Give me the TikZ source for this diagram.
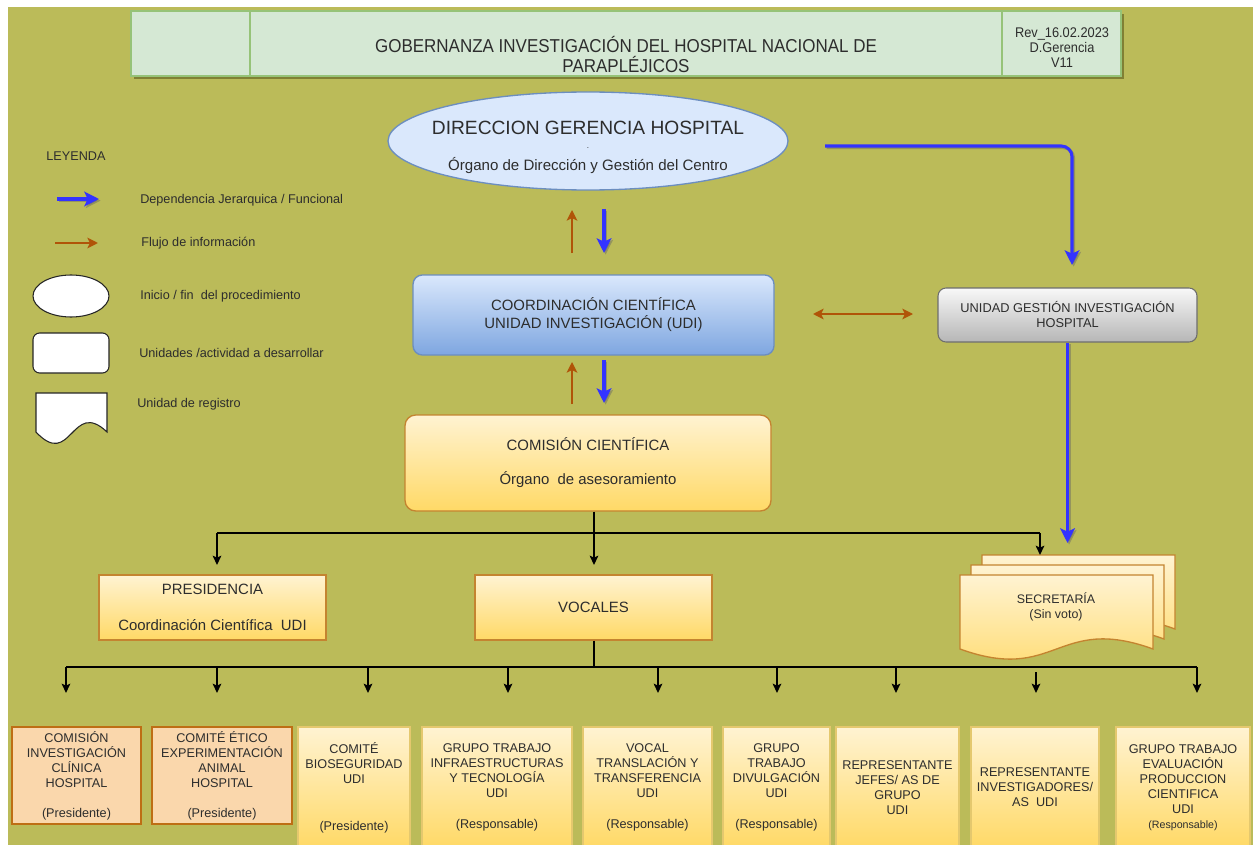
\documentclass[tikz,border=0pt]{standalone}
\usepackage{graphicx}
\usepackage{fontspec}
\setmainfont{Liberation Sans}
\usetikzlibrary{arrows.meta,shapes.geometric}
\definecolor{olivebg}{RGB}{187,187,89}
\definecolor{oliveshadow}{RGB}{128,128,52}
\definecolor{hdrfill}{RGB}{213,232,212}
\definecolor{hdrline}{RGB}{150,195,120}
\definecolor{txt}{RGB}{45,45,45}
\definecolor{bluefill}{RGB}{218,232,252}
\definecolor{blueline}{RGB}{108,142,191}
\definecolor{bluegrad}{RGB}{126,166,224}
\definecolor{yeltop}{RGB}{255,243,210}
\definecolor{yelbot}{RGB}{255,217,102}
\definecolor{midline}{RGB}{196,132,48}
\definecolor{lowline}{RGB}{228,200,110}
\definecolor{orline}{RGB}{190,110,20}
\definecolor{orfill}{RGB}{250,215,172}
\definecolor{greytop}{RGB}{248,248,248}
\definecolor{greybot}{RGB}{182,182,182}
\definecolor{greyline}{RGB}{110,110,110}
\definecolor{arrblue}{RGB}{51,51,255}
\definecolor{arrbrown}{RGB}{176,84,8}
\newcommand{\fs}[2]{\fontsize{#1}{#2}\selectfont}
\begin{document}
\begin{tikzpicture}[x=0.75pt,y=-0.75pt,
  every node/.style={text=txt},
  rect/.style n args={4}{minimum width={(#3-#1)*0.75pt}, minimum height={(#4-#2)*0.75pt}, at={({(#1+#3)/2},{(#2+#4)/2})}, inner sep=0pt, align=center},
  hdr/.style={draw=hdrline, fill=hdrfill, line width=0.8pt},
  bluebox/.style={draw=blueline, line width=1pt, rounded corners=7pt, top color=bluefill, bottom color=bluegrad},
  greybox/.style={draw=greyline, line width=0.8pt, rounded corners=6pt, top color=greytop, bottom color=greybot},
  ybox/.style={draw=midline, line width=1pt, top color=yeltop, bottom color=yelbot},
  ylow/.style={draw=lowline, line width=0.8pt, top color=yeltop, bottom color=yelbot},
  obox/.style={draw=orline, line width=0.8pt, fill=orfill},
  bluearr/.style={draw=arrblue, line width=2.3pt, -{Stealth[length=11pt,width=11pt,inset=2.5pt]}},
  bshadow/.style={draw=black!60, opacity=0.45, line width=2.3pt, -{Stealth[length=11pt,width=11pt,inset=2.5pt]}, transform canvas={xshift=1.2pt,yshift=-1.2pt}},
  brownarr/.style={draw=arrbrown, line width=1.4pt, -{Stealth[length=8pt,width=8pt,inset=2pt]}},
  tree/.style={draw=black, line width=1.2pt},
  treearr/.style={draw=black, line width=1.1pt, -{Stealth[length=7pt,width=6.5pt,inset=1.5pt]}},
  legshape/.style={draw=black!85, line width=0.8pt, fill=white},
  doc/.style={draw=midline, line width=1pt, top color=yeltop, bottom color=yelbot},
  lowtxt/.style={font=\fs{9.5}{11.25}},
  midtxt/.style={font=\fs{11.2}{13.5}},
  legtxt/.style={font=\fs{9.5}{11}, anchor=west, inner sep=0pt},
]
\useasboundingbox (0,0) rectangle (1253,845);
\fill[white] (0,0) rectangle (1253,845);
\fill[olivebg] (8,7) rectangle (1253,845);

% ---------- header ----------
\fill[oliveshadow] (134,14) rectangle (1124,79);
\node[hdr, rect={131}{11}{250}{76}] (hA) {};
\node[hdr, rect={250}{11}{1002}{76}] (hB) {};
\node[hdr, rect={1002}{11}{1121}{76}] (hC) {};
\node[font=\fs{14}{15}, align=center, inner sep=0pt] (title) at (626,54) {\scalebox{0.91}[1]{GOBERNANZA INVESTIGACIÓN DEL HOSPITAL NACIONAL DE}\\\scalebox{0.91}[1]{PARAPLÉJICOS}};
\node[font=\fs{10.5}{11.25}, align=center, inner sep=0pt] (rev) at (1062,48) {\scalebox{0.915}[1]{Rev\_16.02.2023}\\\scalebox{0.915}[1]{D.Gerencia}\\\scalebox{0.915}[1]{V11}};

% ---------- legend ----------
\node[font=\fs{9.5}{11}] (leyenda) at (76,156) {LEYENDA};
\coordinate (lgB1) at (57,199); \coordinate (lgB2) at (99,199);
\draw[bshadow] (lgB1) -- (lgB2);
\draw[bluearr] (lgB1) -- (lgB2);
\node[legtxt] (lgT1) at (140,200) {Dependencia Jerarquica / Funcional};
\coordinate (lgR1) at (55,243); \coordinate (lgR2) at (98,243);
\draw[brownarr] (lgR1) -- (lgR2);
\node[legtxt] (lgT2) at (141,243) {Flujo de información};
\node[legshape, ellipse, minimum width=57pt, minimum height=31.5pt, inner sep=0pt] (lgE) at (71,296) {};
\node[legtxt] (lgT3) at (140,296) {Inicio / fin\ \ del procedimiento};
\node[legshape, rounded corners=5pt, rect={33}{333}{109}{373}] (lgR) {};
\node[legtxt] (lgT4) at (139,353) {Unidades /actividad a desarrollar};
\draw[legshape] (36,393) -- (107,393) -- (107,432) .. controls (71.5,398) and (71.5,470) .. (36,432) -- cycle;
\node[legtxt] (lgT5) at (137,404) {Unidad de registro};

% ---------- direccion ----------
\node[ellipse, draw=blueline, fill=bluefill, line width=1pt, minimum width=300pt, minimum height=73.5pt, inner sep=0pt] (dir) at (588,141) {};
\node[font=\fs{14.4}{16}] (dirT) at (588,128) {DIRECCION GERENCIA HOSPITAL};
\node[font=\fs{6}{6}, inner sep=0pt] (dirDot) at (588,148) {.};
\node[font=\fs{11.3}{13}] (dirS) at (588,166) {Órgano de Dirección y Gestión del Centro};

% ---------- coordinacion ----------
\node[bluebox, rect={413}{275}{774}{355}, midtxt] (coord) {COORDINACIÓN CIENTÍFICA\\UNIDAD INVESTIGACIÓN (UDI)};

% ---------- unidad gestion ----------
\node[greybox, rect={938}{288}{1197}{342}, font=\fs{9.6}{11.25}] (ugi) {UNIDAD GESTIÓN INVESTIGACIÓN\\HOSPITAL};

% ---------- comision ----------
\node[ybox, rounded corners=8pt, rect={405}{415}{771}{511}, font=\fs{11.2}{12.75}] (com) {COMISIÓN CIENTÍFICA\\[12.75pt]Órgano\ \ de asesoramiento};

% ---------- presidencia / vocales ----------
\node[ybox, rect={99}{575}{326}{640}, midtxt] (pres) {PRESIDENCIA\\[13.5pt]Coordinación Científica\ \ UDI};
\node[ybox, rect={475}{575}{712}{640}, midtxt] (voc) {VOCALES};

% ---------- secretaria (stacked documents) ----------
\draw[doc] (982,555) -- (1175,555) -- (1175,629) .. controls (1078.5,594) and (1078.5,664) .. (982,629) -- cycle;
\draw[doc] (971,565) -- (1164,565) -- (1164,639) .. controls (1067.5,604) and (1067.5,674) .. (971,639) -- cycle;
\draw[doc] (960,575) -- (1153,575) -- (1153,649) .. controls (1056.5,614) and (1056.5,684) .. (960,649) -- cycle;
\node[font=\fs{9.3}{11.25}, align=center] (sec) at (1056,607) {SECRETARÍA\\(Sin voto)};
\coordinate (secTop) at (1040,555);

% ---------- bottom boxes ----------
\node[obox, rect={12}{727}{141}{824}, lowtxt] (b1) {COMISIÓN\\INVESTIGACIÓN\\CLÍNICA\\HOSPITAL\\[11.25pt](Presidente)};
\node[obox, rect={152}{727}{292}{824}, lowtxt] (b2) {COMITÉ ÉTICO\\EXPERIMENTACIÓN\\ANIMAL\\HOSPITAL\\[11.25pt](Presidente)};
\node[ylow, rect={298}{727}{410}{848}, lowtxt] (b3) {COMITÉ\\BIOSEGURIDAD\\UDI\\[24pt](Presidente)};
\node[ylow, rect={422}{727}{572}{848}, lowtxt] (b4) {GRUPO TRABAJO\\INFRAESTRUCTURAS\\Y TECNOLOGÍA\\UDI\\[12pt](Responsable)};
\node[ylow, rect={583}{727}{712}{848}, lowtxt] (b5) {VOCAL\\TRANSLACIÓN Y\\TRANSFERENCIA\\UDI\\[12pt](Responsable)};
\node[ylow, rect={723}{727}{830}{848}, lowtxt] (b6) {GRUPO\\TRABAJO\\DIVULGACIÓN\\UDI\\[12pt](Responsable)};
\node[ylow, rect={836}{727}{959}{848}, lowtxt] (b7) {REPRESENTANTE\\JEFES/ AS DE\\GRUPO\\UDI};
\node[ylow, rect={971}{727}{1099}{848}, lowtxt] (b8) {REPRESENTANTE\\INVESTIGADORES/\\AS\ \ UDI};
\node[ylow, rect={1116}{727}{1250}{848}, lowtxt] (b9) {GRUPO TRABAJO\\EVALUACIÓN\\PRODUCCION\\CIENTIFICA\\UDI\\{\fs{8}{11.25}(Responsable)}};

% ---------- arrows between main blocks ----------
\coordinate (r1s) at (572,253); \coordinate (r1e) at (572,210);
\coordinate (u1s) at (604,209); \coordinate (u1e) at (604,253);
\draw[brownarr] (r1s) -- (r1e);
\draw[bshadow] (u1s) -- (u1e);
\draw[bluearr] (u1s) -- (u1e);
\coordinate (r2s) at (572,404); \coordinate (r2e) at (572,362);
\coordinate (u2s) at (604,360); \coordinate (u2e) at (604,403);
\draw[brownarr] (r2s) -- (r2e);
\draw[bshadow] (u2s) -- (u2e);
\draw[bluearr] (u2s) -- (u2e);
\coordinate (hL) at (813,314); \coordinate (hR) at (913,314);
\draw[brownarr, {Stealth[length=8pt,width=8pt,inset=2pt]}-{Stealth[length=8pt,width=8pt,inset=2pt]}] (hL) -- (hR);

\coordinate (dS) at (825,146); \coordinate (dC) at (1072,146); \coordinate (dE) at (1072,265);
\draw[bshadow, rounded corners=8pt] (dS) -- (dC) -- (dE);
\draw[bluearr, rounded corners=8pt] (dS) -- (dC) -- (dE);
\coordinate (ugE) at (1067.5,543);
\draw[bshadow] (ugi.south) -- (ugE);
\draw[bluearr] (ugi.south) -- (ugE);

% ---------- tree from comision ----------
\coordinate (j0) at (594,533);
\coordinate (jL) at (217,533);
\coordinate (jR) at (1040,533);
\draw[tree] (j0 |- com.south) -- (j0);
\draw[tree] (jL) -- (jR);
\draw[treearr] (jL) -- (217,565);
\draw[treearr] (j0) -- (594,565);
\draw[treearr] (jR) -- (secTop);

% ---------- tree from vocales ----------
\coordinate (k0) at (594,667);
\coordinate (kL) at (66,667);
\coordinate (kR) at (1197,667);
\draw[line width=1pt] (k0 |- voc.south) -- (k0);
\draw[line width=1.2pt] (kL) -- (kR);
\foreach \xx in {66,217,368,508,658,777,896,1197}{
  \draw[treearr] (\xx,667) -- (\xx,693);
}
\coordinate (k8) at (1036,672);
\draw[treearr] (k8) -- (1036,693);
\end{tikzpicture}
\end{document}
